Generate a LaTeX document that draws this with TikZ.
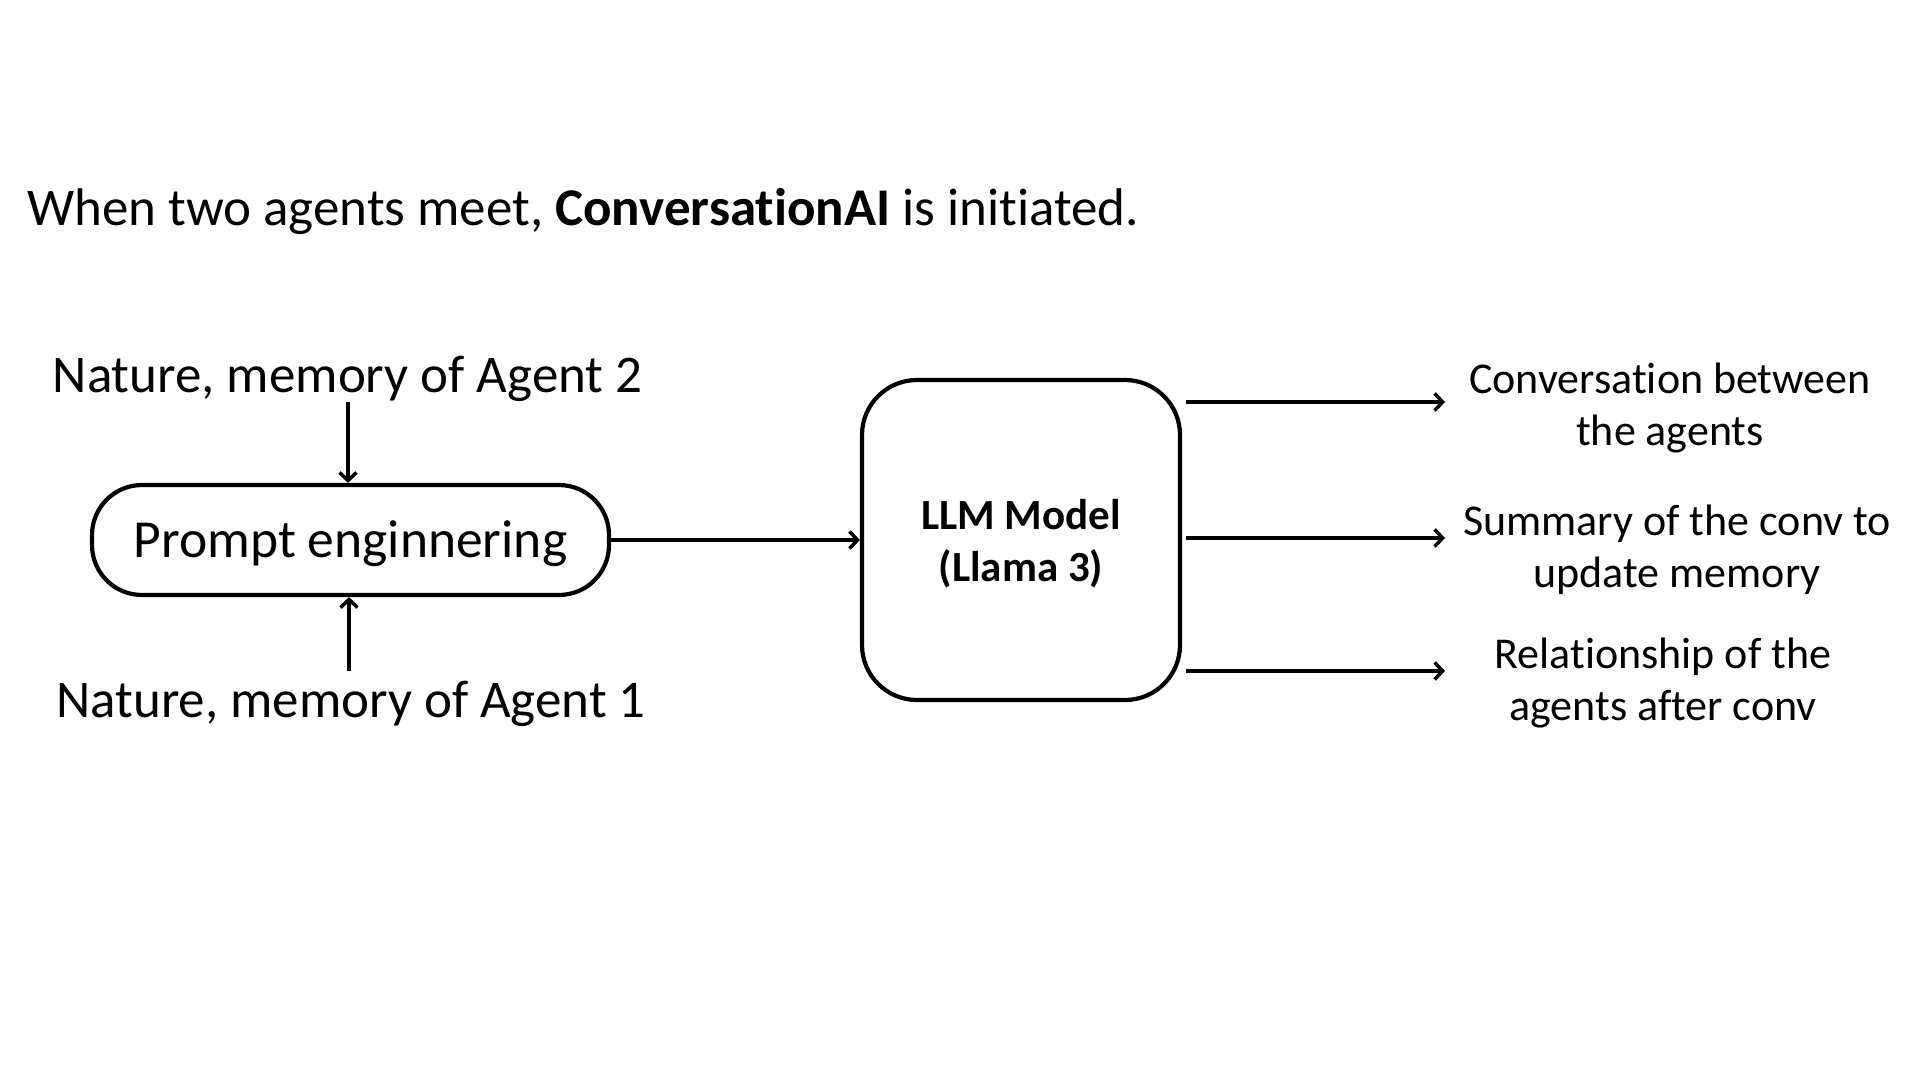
\documentclass[tikz,border=0pt]{standalone}
\usepackage{fontspec}
\setmainfont{Carlito}[Ligatures=NoCommon]
\usetikzlibrary{arrows.meta}
\begin{document}
\begin{tikzpicture}[x=1pt,y=-1pt,
  conn/.style={line width=3.8pt,-{Straight Barb[length=8pt,width=17pt,line width=3.5pt]}},
  big/.style={font=\fontsize{53}{60}\selectfont, inner sep=0pt},
  small/.style={font=\fontsize{44}{52}\selectfont, align=center, inner sep=0pt},
  box/.style={draw, line width=4.2pt, inner sep=0pt}]
\fill[white] (0,0) rectangle (1920,1080);
\useasboundingbox (0,0) rectangle (1920,1080);

\node[big, anchor=base west] (title) at (27,225) {When two agents meet, \textbf{ConversationAI} is initiated.};

\node[big] (a2) at (347.5,379) {Nature, memory of Agent 2};
\node[big] (a1) at (351,704) {Nature, memory of Agent 1};
\node[box, rounded corners=50pt, minimum width=517pt, minimum height=110pt] (prompt) at (350.5,540) {};
\node[font=\fontsize{53.5}{60}\selectfont, inner sep=0pt] (ptext) at (350.5,544) {Prompt enginnering};
\node[box, rounded corners=55pt, minimum width=318pt, minimum height=320pt] (llm) at (1021,540) {};
\node[font=\bfseries\fontsize{43}{52}\selectfont, align=center, inner sep=0pt] (llmtext) at (1021,544) {LLM Model\\(Llama 3)};

\node[small] (o1) at (1670,408) {Conversation between\\the agents};
\node[small] (o2) at (1677,550) {Summary of the conv to\\update memory};
\node[small] (o3) at (1663,683) {Relationship of the\\agents after conv};

\coordinate (e1) at (1445,402);
\coordinate (e2) at (1445,538);
\coordinate (e3) at (1445,671);
\coordinate (s2) at (348,402);
\coordinate (s1) at (349,671);

\draw[conn] (s2) -- (s2 |- prompt.north);
\draw[conn] (s1) -- (s1 |- prompt.south);
\draw[conn] (prompt.east) -- (llm.west);
\draw[conn] ([xshift=4pt]llm.east |- e1) -- (e1);
\draw[conn] ([xshift=4pt]llm.east |- e2) -- (e2);
\draw[conn] ([xshift=4pt]llm.east |- e3) -- (e3);
\end{tikzpicture}
\end{document}
